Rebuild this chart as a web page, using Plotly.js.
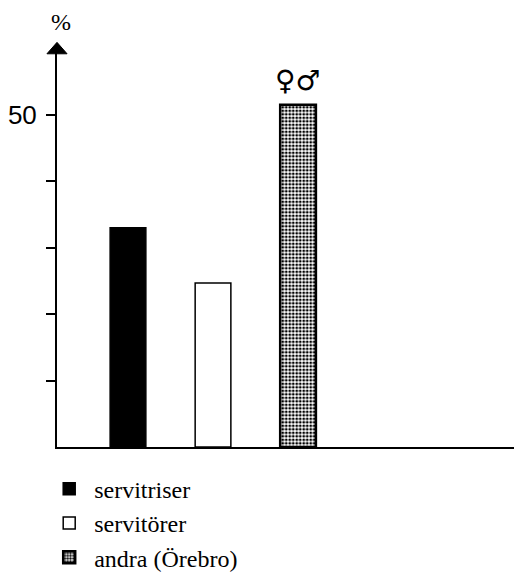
<!DOCTYPE html>
<html>
<head>
<meta charset="utf-8">
<script src="https://cdn.plot.ly/plotly-3.0.1.min.js"></script>
<style>html,body{margin:0;padding:0;background:#fff}#chart{width:516px;height:576px}</style>
</head>
<body>
<div id="chart"></div>
<script>
const categories = [1, 2, 3];
const seriesNames = ['servitriser', 'servitörer', 'andra (Örebro)'];
const values = [33.0, 24.7, 51.5];
const tickValues = [10, 20, 30, 40, 50];
const tickLabels = ['', '', '', '', '50'];
const yUnit = '%';
const sexSymbols = '♀♂';

const serif = 'Liberation Serif';

const styles = [
  {color: '#000000', line: {color: '#000', width: 1.5}},
  {color: '#ffffff', line: {color: '#000', width: 1.5}},
  {color: '#ffffff', line: {color: '#000', width: 2.5},
   pattern: {shape: '.', fgcolor: '#000', bgcolor: '#fff', size: 3.5, solidity: 0.5}}
];

const traces = categories.map((c, i) => ({
  type: 'bar',
  x: [c],
  y: [values[i]],
  name: seriesNames[i],
  width: 0.42,
  marker: styles[i],
  hoverinfo: 'skip'
}));

const layout = {
  width: 516, height: 576,
  margin: {l: 57, r: 2, t: 53, b: 129, autoexpand: false},
  paper_bgcolor: '#fff', plot_bgcolor: '#fff',
  barmode: 'overlay',
  showlegend: true,
  legend: {
    x: -0.028, y: -0.05, xanchor: 'left', yanchor: 'top',
    font: {family: serif, size: 24, color: '#000'},
    itemwidth: 40,
    traceorder: 'normal', itemclick: false
  },
  xaxis: {
    range: [0.165, 5.54], showticklabels: false, ticks: '',
    showgrid: false, zeroline: false, showline: true,
    linecolor: '#000', linewidth: 2, fixedrange: true
  },
  yaxis: {
    range: [0, 59.3], tickvals: tickValues, ticktext: tickLabels,
    ticks: 'outside', ticklen: 9, tickwidth: 2, tickcolor: '#000',
    tickfont: {family: 'Liberation Sans', size: 26, color: '#000'},
    ticklabelstandoff: 4,
    showgrid: false, zeroline: false, showline: true,
    linecolor: '#000', linewidth: 2, fixedrange: true
  },
  shapes: [{
    type: 'path', xref: 'paper', yref: 'paper',
    path: 'M -0.022 0.998 L 0.022 0.998 L 0 1.027 Z',
    fillcolor: '#000', line: {color: '#000', width: 1}
  }],
  annotations: [
    {xref: 'paper', yref: 'paper', x: 0.008, y: 1.079, text: yUnit,
     showarrow: false, xanchor: 'center', yanchor: 'middle',
     font: {family: serif, size: 24, color: '#000'}},
    {xref: 'x', yref: 'y', x: categories[2], y: values[2], text: sexSymbols,
     showarrow: false, xanchor: 'center', yanchor: 'bottom', yshift: 6,
     font: {family: 'DejaVu Sans', size: 28, color: '#000'}}
  ]
};

Plotly.newPlot('chart', traces, layout, {displayModeBar: false, staticPlot: true});
</script>
</body>
</html>
